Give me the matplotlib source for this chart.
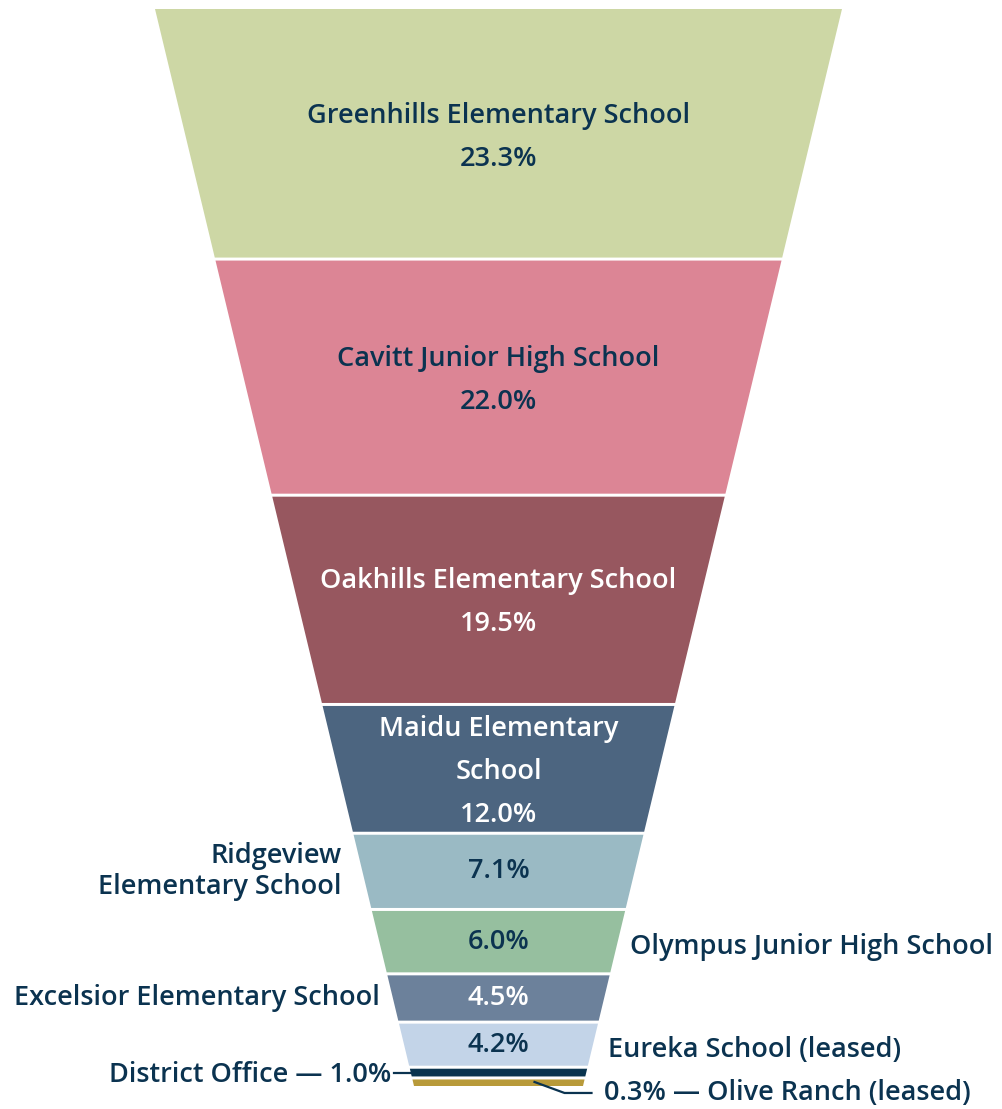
import matplotlib
matplotlib.use("Agg")
import matplotlib.pyplot as plt
from matplotlib.patches import Polygon

# share of district square footage by site
sites = ["Greenhills Elementary School", "Cavitt Junior High School",
         "Oakhills Elementary School", "Maidu Elementary\nSchool",
         "Ridgeview\nElementary School", "Olympus Junior High School",
         "Excelsior Elementary School", "Eureka School (leased)",
         "District Office", "Olive Ranch (leased)"]
shares = [23.3, 22.0, 19.5, 12.0, 7.1, 6.0, 4.5, 4.2, 1.0, 0.3]
fills = ["#CDD7A5", "#DC8595", "#97575F", "#4C6580", "#9ABAC4",
         "#96BF9F", "#6C819B", "#C3D4E8", "#0A344F", "#B89A3A"]
text_cols = ["#0B3350", "#0B3350", "white", "white", "#0B3350",
             "#0B3350", "white", "#0B3350", "#0B3350", "#0B3350"]
# where the site name goes: inside, left or right of the funnel
placement = ["in", "in", "in", "in", "left", "right", "left", "right",
             "left_line", "right_line"]
# gap (px) between funnel edge and outside label
label_gap = [0, 0, 0, 0, 21, 12, 13, 15, 0, 0]

NAVY = "#0B3350"
plt.rcParams["font.family"] = ["Open Sans", "DejaVu Sans"]
FS = 19.5
WEIGHT = "semibold"

W, H = 1003, 1109
fig = plt.figure(figsize=(W / 100, H / 100), dpi=100)
ax = fig.add_axes([0, 0, 1, 1])

min_h = 0.75                   # keeps thin slices visible
heights = [max(s, min_h) for s in shares]
total = sum(heights)
px = total / 1077.0            # data units per pixel
top_half, bot_half = 343.5 * px, 84.5 * px
cx = 0.0

ax.set_xlim(-498.5 * px, (W - 498.5) * px)
ax.set_ylim(total + (H - 1086) * px, -9 * px)
ax.axis("off")


def half_w(y):
    return top_half + (bot_half - top_half) * y / total


def lines_at(x, yc, lines, step, **kw):
    n = len(lines)
    for k, t in enumerate(lines):
        ax.text(x, yc + (k - (n - 1) / 2) * step * px, t, va="center",
                fontsize=FS, fontweight=WEIGHT, **kw)


gap = 1.5 * px
y0 = 0.0
for i, (name, s, h) in enumerate(zip(sites, shares, heights)):
    ya, yb = y0 + gap, y0 + h - gap
    if i == 0:
        ya = y0
    if i == len(sites) - 1:
        yb = y0 + h
    poly = Polygon([(cx - half_w(ya), ya), (cx + half_w(ya), ya),
                    (cx + half_w(yb), yb), (cx - half_w(yb), yb)],
                   closed=True, facecolor=fills[i], edgecolor="none")
    ax.add_patch(poly)
    ym = y0 + h / 2
    pct = f"{s:.1f}%"
    tc = text_cols[i]
    mode = placement[i]
    g = label_gap[i] * px
    if mode == "in":
        lines_at(cx, ym + 3 * px, name.split("\n") + [pct], 43,
                 ha="center", color=tc)
    elif mode in ("left", "right"):
        lines_at(cx, ym, [pct], 0, ha="center", color=tc)
        if mode == "left":
            lines_at(cx - half_w(ym) - g, ym, name.split("\n"), 31,
                     ha="right", color=NAVY)
        else:
            lines_at(cx + half_w(ym) + g, ym + 5 * px, name.split("\n"), 31,
                     ha="left", color=NAVY)
    elif mode == "left_line":
        xe = cx - half_w(ym)
        ax.plot([xe - 17 * px, xe], [ym, ym], color=NAVY, lw=1.6)
        lines_at(xe - 20 * px, ym + 2 * px, [f"{name} \u2014 {pct}"], 0,
                 ha="right", color=NAVY)
    else:
        xs = cx + 36 * px
        yl = ym + 11 * px
        ax.plot([xs, xs + 30 * px, xs + 57 * px], [ym, yl, yl],
                color=NAVY, lw=1.6)
        lines_at(xs + 70 * px, yl, [f"{pct} \u2014 {name}"], 0,
                 ha="left", color=NAVY)
    y0 += h

fig.savefig("out.png", dpi=100)
